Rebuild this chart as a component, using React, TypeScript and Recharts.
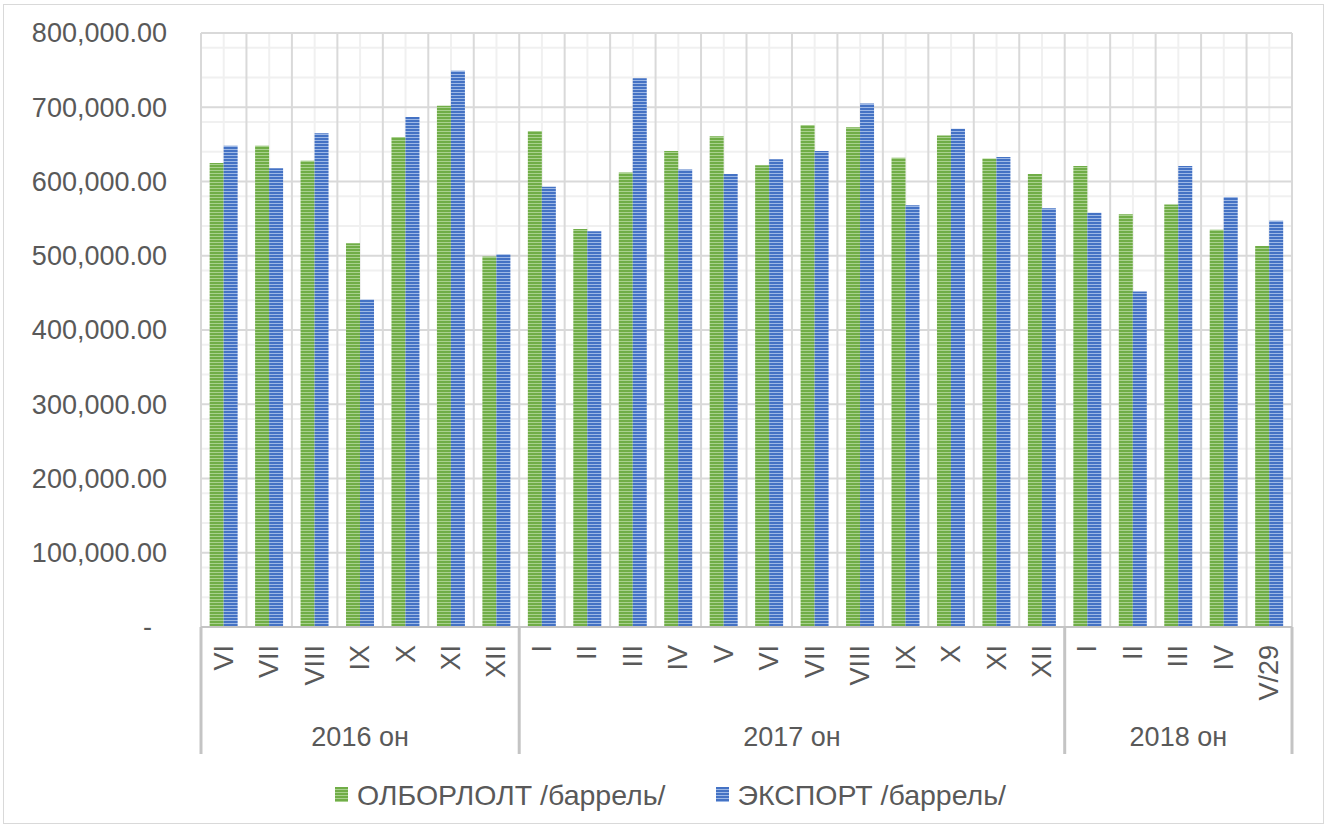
import React from 'react';
import { BarChart, Bar, XAxis, YAxis, CartesianGrid, Legend } from 'recharts';

const months = ['VI', 'VII', 'VIII', 'IX', 'X', 'XI', 'XII', 'I', 'II', 'III', 'IV', 'V', 'VI', 'VII', 'VIII', 'IX', 'X', 'XI', 'XII', 'I', 'II', 'III', 'IV', 'V/29'];
const yearGroups = ['2016 он', '2017 он', '2018 он'];
const yearCounts = [7, 12, 5];
const olborlolt = [625000, 648000, 628000, 517000, 660000, 702000, 499000, 668000, 536000, 612000, 641000, 661000, 622000, 676000, 673000, 632000, 662000, 631000, 610000, 621000, 556000, 569000, 535000, 513000];
const exportVals = [648000, 618000, 665000, 441000, 687000, 749000, 502000, 593000, 533000, 739000, 616000, 610000, 630000, 641000, 705000, 568000, 671000, 633000, 564000, 558000, 452000, 621000, 579000, 547000];
const yTicks = [0, 100000, 200000, 300000, 400000, 500000, 600000, 700000, 800000];
const yMinorTicks = yTicks.slice(0, -1).flatMap((t) => [1, 2, 3, 4].map((k) => t + k * 20000));
const seriesNames = ['ОЛБОРЛОЛТ /баррель/', 'ЭКСПОРТ /баррель/'];

const data = months.map((m, i) => ({ key: `${i}-${m}`, month: m, olborlolt: olborlolt[i], exportv: exportVals[i] }));

const groupStarts: number[] = [];
yearCounts.reduce((acc, c) => { groupStarts.push(acc); return acc + c; }, 0);

const FONT = '"Liberation Sans", Arial, sans-serif';
const TEXT = '#595959';
const FS = 27;
const LEGEND_FS = 28.5;

const YTick = (props: any) => {
  const { x, y, payload } = props;
  const v = payload.value as number;
  const label = v === 0 ? '-' : v.toLocaleString('en-US', { minimumFractionDigits: 2, maximumFractionDigits: 2 });
  return (
    <text x={v === 0 ? x - 49 : x - 34} y={y} dy="0.35em" textAnchor="end" fill={TEXT} fontSize={FS} fontFamily={FONT}>
      {label}
    </text>
  );
};

const XTick = (props: any) => {
  const { x, y, payload, width } = props;
  const i = payload.index as number;
  const band = typeof width === 'number' && width > 0 ? width / months.length : (payload.offset || 22.7) * 2;
  const gi = groupStarts.indexOf(i);
  const lineColor = '#c4c4c4';
  return (
    <g>
      <text
        transform={`translate(${x},${y + 18}) rotate(-90)`}
        textAnchor="end"
        dominantBaseline="central"
        fill={TEXT}
        fontSize={FS}
        fontFamily={FONT}
      >
        {months[i]}
      </text>
      {gi >= 0 && (
        <g>
          <line x1={x - band / 2} x2={x - band / 2} y1={y} y2={y + 127} stroke={lineColor} strokeWidth={3} />
          <text
            x={x + (yearCounts[gi] / 2 - 0.5) * band}
            y={y + 110}
            dy="0.35em"
            textAnchor="middle"
            fill={TEXT}
            fontSize={FS}
            fontFamily={FONT}
          >
            {yearGroups[gi]}
          </text>
        </g>
      )}
      {i === months.length - 1 && (
        <line x1={x + band / 2} x2={x + band / 2} y1={y} y2={y + 127} stroke={lineColor} strokeWidth={3} />
      )}
    </g>
  );
};

const colors = [
  { id: 'stripeGreen', base: '#70AD47', light: '#A9D18E' },
  { id: 'stripeBlue', base: '#4472C4', light: '#9DB8E6' },
];

const renderLegend = () => (
  <div
    style={{
      width: 1330,
      height: 58,
      boxSizing: 'border-box',
      paddingTop: 23,
      paddingLeft: 11,
      display: 'flex',
      justifyContent: 'center',
      alignItems: 'center',
      fontFamily: FONT,
      fontSize: LEGEND_FS,
      color: TEXT,
      lineHeight: '30px',
    }}
  >
    {seriesNames.map((name, k) => (
      <div key={name} style={{ display: 'flex', alignItems: 'center', marginLeft: k === 0 ? 0 : 50 }}>
        <svg width={13} height={15} style={{ marginRight: 9 }}>
          <rect x={0} y={0} width={13} height={15} fill={`url(#${colors[k].id}L)`} />
          <defs>
            <pattern id={`${colors[k].id}L`} patternUnits="userSpaceOnUse" width={4} height={3}>
              <rect x={0} y={0} width={4} height={3} fill={colors[k].base} />
              <rect x={0} y={2} width={4} height={1} fill={colors[k].light} />
            </pattern>
          </defs>
        </svg>
        <span>{name}</span>
      </div>
    ))}
  </div>
);

export default function App() {
  return (
    <div style={{ position: 'absolute', left: 0, top: 0, width: 1330, height: 827, background: '#fff' }}>
      <div
        style={{
          position: 'absolute',
          left: 3,
          top: 4,
          width: 1319,
          height: 818,
          border: '1px solid #d9d9d9',
          pointerEvents: 'none',
        }}
      />
      <BarChart
        width={1330}
        height={827}
        data={data}
        margin={{ top: 33, right: 38, bottom: 15, left: 0 }}
        barCategoryGap="19%"
        barGap={0}
      >
        <defs>
          {colors.map((c) => (
            <pattern key={c.id} id={c.id} patternUnits="userSpaceOnUse" width={4} height={3}>
              <rect x={0} y={0} width={4} height={3} fill={c.base} />
              <rect x={0} y={2} width={4} height={1} fill={c.light} />
            </pattern>
          ))}
        </defs>
        <CartesianGrid horizontalValues={yMinorTicks} vertical={false} stroke="#f0f0f0" strokeWidth={2} />
        <CartesianGrid horizontal={false} stroke="#f0f0f0" strokeWidth={2} />
        <CartesianGrid horizontalValues={yTicks} vertical={false} stroke="#d9d9d9" strokeWidth={2} />
        <CartesianGrid
          horizontal={false}
          verticalCoordinatesGenerator={(args: any) => {
            const o = args.offset;
            return Array.from({ length: months.length + 1 }, (_, i) => o.left + (i * o.width) / months.length);
          }}
          stroke="#d9d9d9"
          strokeWidth={2}
        />
        <XAxis
          dataKey="key"
          interval={0}
          height={127}
          tickLine={false}
          tickSize={0}
          tickMargin={0}
          axisLine={{ stroke: '#c4c4c4', strokeWidth: 2 }}
          tick={<XTick />}
        />
        <YAxis
          width={201}
          domain={[0, 800000]}
          ticks={yTicks}
          tickLine={false}
          axisLine={false}
          tickSize={0}
          tickMargin={0}
          tick={<YTick />}
        />
        <Legend verticalAlign="bottom" content={renderLegend} wrapperStyle={{ left: 0, width: 1330 }} />
        <Bar dataKey="olborlolt" name={seriesNames[0]} fill="url(#stripeGreen)" isAnimationActive={false} />
        <Bar dataKey="exportv" name={seriesNames[1]} fill="url(#stripeBlue)" isAnimationActive={false} />
      </BarChart>
    </div>
  );
}
